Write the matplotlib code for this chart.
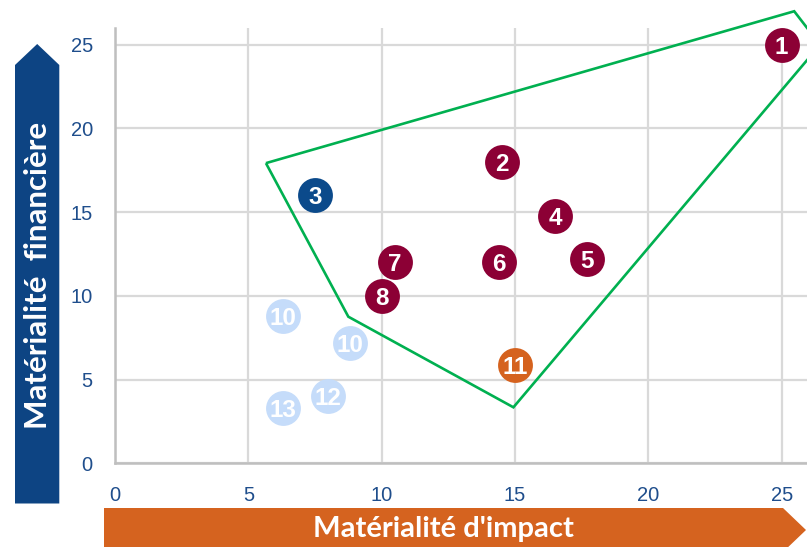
import matplotlib
matplotlib.use("Agg")
import matplotlib.pyplot as plt
from matplotlib.patches import Polygon

# ---- data ----
labels = ["1", "2", "3", "4", "5", "6", "7", "8", "10", "10", "11", "12", "13"]
x_impact = [25.0, 14.5, 7.5, 16.5, 17.7, 14.4, 10.5, 10.0, 6.3, 8.8, 15.0, 8.0, 6.3]
y_financ = [25.0, 18.0, 16.0, 14.8, 12.2, 12.0, 12.0, 10.0, 8.8, 7.2, 5.9, 4.0, 3.3]
groups = ["core", "core", "blue", "core", "core", "core", "core", "core",
          "light", "light", "orange", "light", "light"]
hull_x = [5.66, 25.47, 26.44, 14.94, 8.75]
hull_y = [17.93, 27.0, 25.0, 3.35, 8.76]
ticks = [0, 5, 10, 15, 20, 25]

group_colors = {"core": "#8C0035", "blue": "#0B4A8B", "orange": "#D5621E", "light": "#C5DCFA"}

W, H = 807, 547
fig = plt.figure(figsize=(W / 100, H / 100), dpi=100)

def fx(x):
    return x / W

def fy(y):
    return 1 - y / H

ax = fig.add_axes([fx(115), fy(463.4), (807 - 115) / W, (463.4 - 28) / H])
ax.set_xlim(0, 25.95)
ax.set_ylim(0, 26)
ax.set_xticks(ticks)
ax.set_yticks(ticks)
ax.grid(True, color="#D9D9D9", linewidth=1.6)
ax.set_axisbelow(True)
for s in ["top", "right"]:
    ax.spines[s].set_visible(False)
for s in ["left", "bottom"]:
    ax.spines[s].set_color("#BFBFBF")
    ax.spines[s].set_linewidth(1.8)
ax.tick_params(length=0, labelsize=14.5, labelcolor="#1F4E8C")
ax.tick_params(axis="y", pad=16)
ax.tick_params(axis="x", pad=16)
for lab in ax.get_xticklabels() + ax.get_yticklabels():
    lab.set_fontfamily("Liberation Sans")

# hull polygon
hull = Polygon(list(zip(hull_x, hull_y)), closed=True, fill=False,
               edgecolor="#00B050", linewidth=1.9, clip_on=False, zorder=2)
ax.add_patch(hull)

# points
for lx, ly, lab, g in zip(x_impact, y_financ, labels, groups):
    ax.scatter([lx], [ly], s=630, color=group_colors[g], zorder=3, clip_on=False,
               linewidths=0)
    ax.text(lx, ly, lab, color="white", fontsize=17.5, fontweight="bold",
            fontfamily="Liberation Sans", ha="center", va="center_baseline", zorder=4)

# y arrow
yarrow = Polygon([(fx(15), fy(503.5)), (fx(15), fy(65)), (fx(37.2), fy(44)),
                  (fx(59.3), fy(65)), (fx(59.3), fy(503.5))],
                 closed=True, transform=fig.transFigure, facecolor="#0D4483",
                 edgecolor="none")
fig.add_artist(yarrow)
fig.text(fx(38), fy(275), "Matérialité  financière", rotation=90, color="white",
         fontsize=22.5, fontweight="bold", fontfamily="Lato", ha="center", va="center")

# x arrow
xarrow = Polygon([(fx(104), fy(508)), (fx(783), fy(508)), (fx(806), fy(530)),
                  (fx(783), fy(552)), (fx(104), fy(552))],
                 closed=True, transform=fig.transFigure, facecolor="#D5631F",
                 edgecolor="none")
fig.add_artist(xarrow)
fig.text(fx(443), fy(529), "Matérialité d'impact", color="white",
         fontsize=21, fontweight="bold", fontfamily="Lato", ha="center", va="center")

fig.savefig("out.png", dpi=100)
